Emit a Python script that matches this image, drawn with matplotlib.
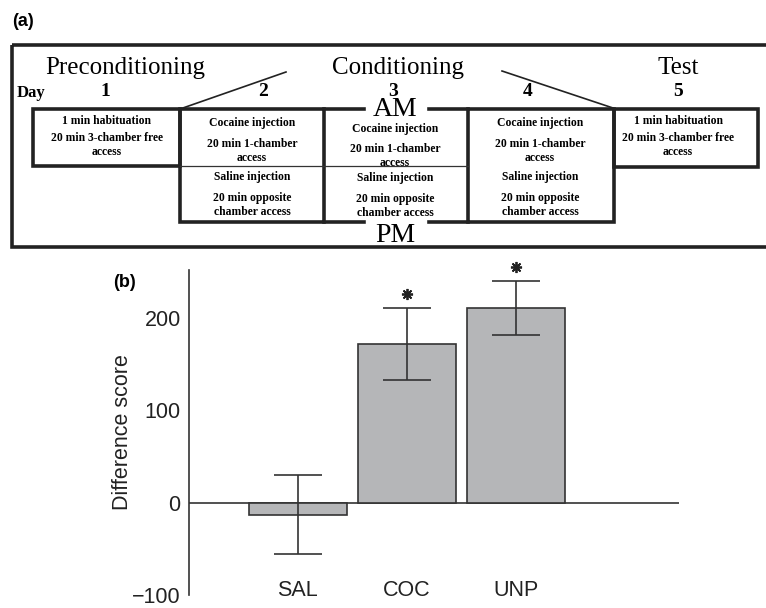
import matplotlib.pyplot as plt
from matplotlib.patches import Rectangle

# ---- panel (b) data ----
groups = ['SAL', 'COC', 'UNP']
scores = [-13, 172, 211]
sem = [43, 39, 29]
significant = [False, True, True]

# ---- panel (a) protocol text ----
phases = ['Preconditioning', 'Conditioning', 'Test']
days = ['1', '2', '3', '4', '5']
free_access = ['1 min habituation', '20 min 3-chamber free', 'access']
am_session = ['Cocaine injection', '20 min 1-chamber', 'access']
pm_session = ['Saline injection', '20 min opposite', 'chamber access']

W, H = 766, 608
fig = plt.figure(figsize=(W / 100, H / 100), dpi=100)

# --- (a) schematic drawn in pixel space ---
d = fig.add_axes([0, 0, 1, 1])
d.set_xlim(0, W)
d.set_ylim(H, 0)
d.axis('off')

serif = 'Liberation Serif'
thick = 2.6
d.add_patch(Rectangle((12, 45), 800, 202, fill=False, lw=thick, ec='#222'))
d.text(12, 22, '(a)', fontsize=13, fontweight='bold', family='Liberation Sans', va='center')

for name, x in zip(phases, [125, 398, 678]):
    d.text(x, 68, name, fontsize=18, family=serif, ha='center', va='center')
d.text(17, 93, 'Day', fontsize=12, family=serif, fontweight='bold', va='center')
for dd, x in zip(days, [105, 263, 393, 528, 678]):
    d.text(x, 91, dd, fontsize=14, family=serif, fontweight='bold', ha='center', va='center')

# boxes
d.add_patch(Rectangle((33, 109), 147, 57, fill=False, lw=thick, ec='#222'))
d.add_patch(Rectangle((180, 109), 144, 113, fill=False, lw=thick, ec='#222'))
d.add_patch(Rectangle((468, 109), 146, 113, fill=False, lw=thick, ec='#222'))
d.add_patch(Rectangle((614, 109), 144, 58, fill=False, lw=thick, ec='#222'))
# AM / PM lines for day 3
for y in (109, 222):
    d.plot([324, 364], [y, y], color='#222', lw=thick)
    d.plot([429, 468], [y, y], color='#222', lw=thick)
d.plot([180, 468], [166, 166], color='#333', lw=0.9)
d.text(395, 109, 'AM', fontsize=20, family=serif, ha='center', va='center')
d.text(395, 235, 'PM', fontsize=20, family=serif, ha='center', va='center')
# diagonals
d.plot([180, 286], [109, 72], color='#222', lw=1.2)
d.plot([502, 613], [71, 108], color='#222', lw=1.2)

def lines(x, ys, texts):
    for y, t in zip(ys, texts):
        d.text(x, y, t, fontsize=8.4, family=serif, fontweight='bold', ha='center', va='center')

lines(107, [121, 138, 152], free_access)
lines(678, [121, 138, 152], free_access)
for x in (252, 540):
    lines(x, [123, 144, 158], am_session)
    lines(x, [177, 198, 212], pm_session)
lines(395, [129, 149, 163], am_session)
lines(395, [178, 199, 213], pm_session)

# --- (b) bar chart ---
ax = fig.add_axes([189 / W, 13 / H, 490 / W, 325 / H])
sans = 'Liberation Sans'
xs = list(range(len(groups)))
ax.bar(xs, scores, width=0.9, color='#b5b6b8', edgecolor='#333', lw=1.2, zorder=2)
ax.errorbar(xs, scores, yerr=sem, fmt='none', ecolor='#333', elinewidth=1.2,
            capsize=17, capthick=1.2, zorder=3)
for x, s, e, sig in zip(xs, scores, sem, significant):
    if sig:
        ax.plot(x, s + e + 15, marker=(8, 2, 0), ms=8, mew=1.3, color='#222',
                clip_on=False, zorder=4)
ax.axhline(0, color='#333', lw=1.2, zorder=1)
ax.set_xlim(-1, 3.5)
ax.set_ylim(-100, 252)
ax.set_yticks([-100, 0, 100, 200])
ax.set_yticklabels(['\u2212100', '0', '100', '200'])
ax.set_xticks(xs)
ax.set_xticklabels(groups)
ax.tick_params(axis='y', length=0, pad=6, labelsize=15.5)
ax.tick_params(axis='x', length=0, pad=-11, labelsize=15.5)
for lab in ax.get_xticklabels() + ax.get_yticklabels():
    lab.set_family(sans)
    lab.set_color('#222')
for s in ('top', 'right', 'bottom'):
    ax.spines[s].set_visible(False)
ax.spines['left'].set_color('#333')
ax.spines['left'].set_linewidth(1.2)
ax.set_ylabel('Difference score', fontsize=15.5, family=sans, color='#222', labelpad=-1)
ax.patch.set_alpha(0)
fig.text(113 / W, 1 - 282 / H, '(b)', fontsize=13, fontweight='bold', family=sans, va='center')

fig.savefig('out.png', dpi=100)
